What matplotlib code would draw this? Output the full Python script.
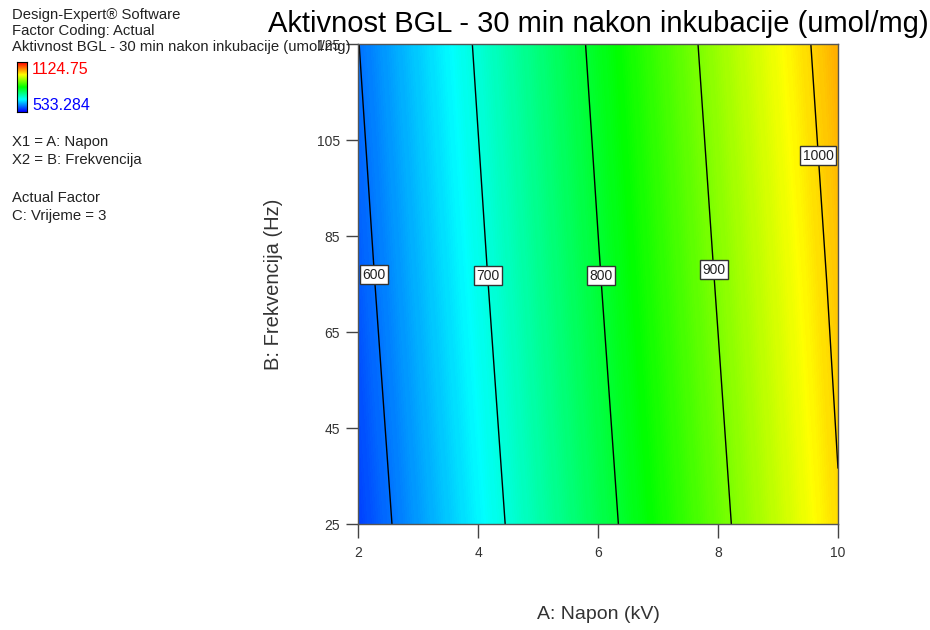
import numpy as np
import matplotlib
matplotlib.use("Agg")
from matplotlib import pyplot as plt
from matplotlib.colors import LinearSegmentedColormap

plt.rcParams['font.family'] = ['Liberation Sans', 'DejaVu Sans']

# response (rows = frekvencija, cols = napon)
napon = [2, 3, 4, 5, 6, 7, 8, 9, 10]
frekvencija = [25, 75, 125]
aktivnost = [
    [570, 623, 676, 729, 782, 835, 888, 942, 997],
    [585, 638, 691, 744, 797, 850, 903, 956, 1010],
    [599, 652, 705, 758, 811, 864, 918, 971, 1024],
]
levels = [600, 700, 800, 900, 1000]
label_pos = [(2.2, 76.9), (4.17, 76.7), (6.03, 76.7), (7.9, 77.9), (9.65, 101.7)]
zmin, zmax = 533.284, 1124.75
xticks = [2, 4, 6, 8, 10]
yticks = [25, 45, 65, 85, 105, 125]

cmap = LinearSegmentedColormap.from_list(
    "de", ["#0000FF", "#00FFFF", "#00FF00", "#FFFF00", "#FF0000"])

fig = plt.figure(figsize=(9.3, 6.3), dpi=100)
ax = fig.add_axes([358 / 930, 1 - 524 / 630, 480 / 930, 480 / 630])

X, Y = np.meshgrid(napon, frekvencija)
Z = np.array(aktivnost, dtype=float)
ax.contourf(X, Y, Z, levels=np.linspace(zmin, zmax, 300), cmap=cmap,
            vmin=zmin, vmax=zmax, antialiased=False)
cs = ax.contour(X, Y, Z, levels=levels, colors="black", linewidths=1.0)
labels = ax.clabel(cs, fmt="%d", fontsize=10, inline=False, manual=label_pos)
for t in labels:
    t.set_rotation(0)
    t.set_color("#222222")
    t.set_bbox(dict(facecolor="white", edgecolor="#333333", pad=1.8, lw=1))

ax.set_xlim(2, 10)
ax.set_ylim(25, 125)
ax.set_xticks(xticks)
ax.set_yticks(yticks)
ax.tick_params(direction="out", width=1, colors="#444444",
               labelsize=10, labelcolor="#333333")
ax.tick_params(axis="x", length=10, pad=6)
ax.tick_params(axis="y", length=9, pad=4)
for s in ax.spines.values():
    s.set_color("#555555")
    s.set_linewidth(1)

ax.set_title("Aktivnost BGL - 30 min nakon inkubacije (umol/mg)",
             fontsize=21, pad=9)
ax.set_xlabel("A: Napon (kV)", fontsize=14, color="#333333", labelpad=33)
ax.set_ylabel("B: Frekvencija (Hz)", fontsize=14.5, color="#333333", labelpad=24)

# left info block
info = [
    (15, "Design-Expert® Software"),
    (31, "Factor Coding: Actual"),
    (47, "Aktivnost BGL - 30 min nakon inkubacije (umol/mg)"),
    (142, "X1 = A: Napon"),
    (160, "X2 = B: Frekvencija"),
    (198, "Actual Factor"),
    (216, "C: Vrijeme = 3"),
]
for ypix, txt in info:
    fig.text(12 / 930, 1 - ypix / 630, txt, fontsize=10.7, color="#222222",
             va="center", ha="left")

cax = fig.add_axes([17 / 930, 1 - 112 / 630, 10 / 930, 50 / 630])
cax.imshow(np.linspace(1, 0, 100).reshape(-1, 1), aspect="auto", cmap=cmap)
cax.set_xticks([])
cax.set_yticks([])
fig.text(32 / 930, 1 - 70 / 630, f"{zmax:.2f}", fontsize=11.5, color="red",
         va="center")
fig.text(32 / 930, 1 - 106 / 630, f"{zmin:.3f}", fontsize=11.5, color="blue",
         va="center")

fig.savefig("out.png", dpi=100)
